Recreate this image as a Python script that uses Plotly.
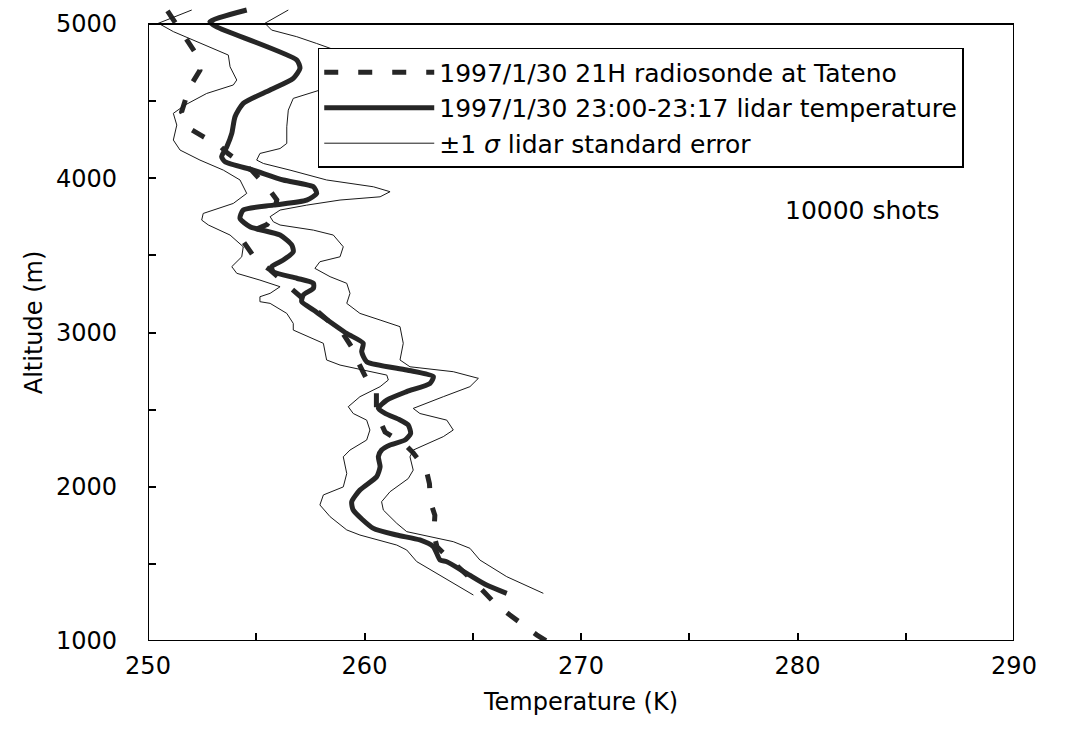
import plotly.graph_objects as go

# Radiosonde profile (Tateno, 1997/1/30 21H)
rs_alt = [5085, 4960, 4895, 4790, 4700, 4585, 4430, 4320, 4270, 4205, 4160, 4050, 3935, 3860,
          3760, 3700, 3645, 3590, 3470, 3405, 3330, 3275, 3040, 2995, 2885, 2810, 2670, 2615,
          2480, 2355, 2270, 2220, 2110, 2020, 1900, 1815, 1690, 1610, 1365, 1255, 1170, 1115,
          1040, 1000]
rs_temp = [250.9, 251.5, 251.8, 252.3, 252.4, 251.9, 251.55, 251.95, 252.55, 253.35, 253.7, 254.8,
           255.55, 255.95, 255.8, 255.5, 254.6, 254.4, 255.0, 255.65, 256.25, 256.7, 258.55, 259.0,
           259.5, 259.7, 260.2, 260.55, 260.55, 260.95, 261.9, 262.25, 262.85, 263.0, 263.05,
           263.25, 263.2, 263.35, 265.2, 265.95, 266.7, 267.2, 267.95, 268.4]

# Lidar temperature profile (23:00-23:17)
li_alt = [5091, 5015, 4982, 4767, 4713, 4648, 4572, 4486, 4399, 4291, 4205, 4140, 4107, 4053,
          3989, 3945, 3902, 3858, 3826, 3794, 3740, 3686, 3632, 3567, 3524, 3470, 3427, 3394,
          3352, 3319, 3287, 3243, 3200, 3146, 2995, 2930, 2876, 2811, 2757, 2714, 2671, 2617,
          2562, 2508, 2476, 2433, 2400, 2346, 2303, 2271, 2238, 2195, 2130, 2065, 1979, 1903,
          1849, 1730, 1687, 1655, 1612, 1525, 1514, 1439, 1363, 1309]
li_temp = [254.56, 252.86, 253.17, 256.87, 257.02, 256.71, 255.64, 254.40, 254.02, 253.87,
           253.64, 253.40, 253.56, 254.86, 256.25, 257.64, 257.79, 257.33, 255.79, 254.40,
           254.25, 254.71, 256.10, 256.64, 256.71, 256.25, 255.71, 255.79, 256.87, 257.64,
           257.64, 257.17, 257.10, 257.64, 259.17, 259.94, 259.87, 260.10, 261.95, 263.18,
           263.03, 261.95, 261.03, 260.64, 260.95, 261.64, 262.02, 262.13, 261.87, 261.18,
           260.79, 260.64, 260.72, 260.56, 259.79, 259.41, 259.48, 260.41, 261.49, 262.56,
           263.18, 263.49, 263.80, 264.72, 265.64, 266.57]

# Lidar -1 sigma
lo_alt = [5091, 5005, 4951, 4897, 4799, 4723, 4637, 4605, 4550, 4475, 4421, 4345, 4248, 4183,
          4118, 4053, 3989, 3902, 3837, 3772, 3729, 3697, 3632, 3556, 3491, 3427, 3384, 3340,
          3297, 3254, 3232, 3200, 3189, 3124, 3059, 3016, 2930, 2822, 2789, 2724, 2692, 2649,
          2584, 2519, 2475, 2432, 2368, 2303, 2238, 2194, 2086, 1999, 1947, 1882, 1806, 1720,
          1687, 1622, 1590, 1515, 1439, 1298]
lo_temp = [252.02, 250.48, 251.17, 252.09, 253.71, 253.79, 254.10, 253.94, 252.71, 251.71,
           251.17, 251.33, 251.17, 251.48, 252.40, 253.48, 254.25, 254.56, 253.94, 252.55,
           252.48, 252.79, 253.79, 254.40, 254.33, 253.87, 254.10, 255.17, 256.10, 255.64,
           255.17, 255.17, 255.64, 256.41, 256.71, 256.71, 258.10, 258.25, 258.87, 261.03,
           261.10, 260.72, 259.79, 259.25, 259.48, 260.10, 260.25, 260.10, 259.33, 259.02,
           259.18, 259.02, 258.10, 257.94, 258.41, 259.18, 259.79, 261.49, 261.95, 262.41,
           263.33, 265.03]

# Lidar +1 sigma
hi_alt = [5091, 5005, 4961, 4918, 4874, 4820, 4700, 4572, 4518, 4442, 4334, 4226, 4193, 4161,
          4118, 4096, 4053, 3989, 3945, 3913, 3880, 3859, 3826, 3794, 3751, 3718, 3697, 3664,
          3632, 3556, 3491, 3459, 3416, 3362, 3319, 3254, 3189, 3124, 3081, 3038, 2930, 2822,
          2778, 2746, 2703, 2649, 2584, 2508, 2475, 2432, 2368, 2325, 2238, 2194, 2108, 2053,
          1968, 1903, 1849, 1763, 1709, 1644, 1601, 1525, 1417, 1309]
hi_temp = [256.48, 255.40, 255.71, 256.87, 257.79, 258.87, 259.30, 257.94, 256.71, 256.48,
           256.41, 256.41, 256.10, 255.17, 255.02, 255.33, 256.56, 258.25, 260.41, 261.18,
           260.72, 258.87, 257.33, 256.10, 255.64, 255.79, 256.10, 257.64, 258.56, 259.02,
           258.87, 257.94, 257.71, 258.41, 259.18, 259.33, 259.18, 259.79, 260.72, 261.64,
           261.79, 261.64, 262.10, 264.10, 265.26, 264.87, 263.64, 262.25, 262.56, 263.80,
           264.10, 263.64, 262.25, 262.10, 262.25, 262.02, 261.18, 260.79, 260.87, 261.49,
           261.95, 264.10, 264.87, 265.33, 266.57, 268.26]

x_ticks = [250, 260, 270, 280, 290]
y_ticks = [1000, 2000, 3000, 4000, 5000]

FONT = "DejaVu Sans, Verdana, sans-serif"
FS = 24
INK = "#1a1a1a"

fig = go.Figure()

fig.add_trace(go.Scatter(
    x=rs_temp, y=rs_alt, mode="lines", name="1997/1/30 21H radiosonde at Tateno",
    line=dict(color="#262626", width=5, dash="14px,20px"), legendrank=1))
fig.add_trace(go.Scatter(
    x=li_temp, y=li_alt, mode="lines", name="1997/1/30 23:00-23:17 lidar temperature",
    line=dict(color="#262626", width=5, shape="spline", smoothing=0.6), legendrank=2))
fig.add_trace(go.Scatter(
    x=lo_temp, y=lo_alt, mode="lines", name="±1 <i>σ</i> lidar standard error",
    legendgroup="sig", line=dict(color=INK, width=1), legendrank=3))
fig.add_trace(go.Scatter(
    x=hi_temp, y=hi_alt, mode="lines", name="+1 sigma", showlegend=False,
    legendgroup="sig", line=dict(color=INK, width=1)))

# plot frame
fig.add_shape(type="rect", xref="x", yref="y", x0=250, x1=290, y0=1000, y1=5000,
              line=dict(color="black", width=2), fillcolor="rgba(0,0,0,0)", layer="above")

fig.add_annotation(x=283.0, y=3794, xref="x", yref="y", text="10000 shots", showarrow=False,
                   font=dict(family=FONT, size=25, color="black"))

fig.update_layout(
    width=1074, height=744,
    margin=dict(l=148, r=60, t=4, b=103),
    paper_bgcolor="white", plot_bgcolor="white",
    font=dict(family=FONT, size=FS, color="black"),
    showlegend=True,
    legend=dict(x=0.196, y=0.931, xanchor="left", yanchor="top",
                bgcolor="white", bordercolor="black", borderwidth=1.5,
                itemwidth=110, font=dict(family=FONT, size=25, color="black"),
                tracegroupgap=0, traceorder="normal"),
)

fig.update_xaxes(
    range=[250, 290], tickvals=x_ticks, ticktext=[str(v) for v in x_ticks],
    showgrid=False, zeroline=False, showline=False,
    ticks="inside", ticklen=8, tickwidth=1.5, tickcolor="black",
    minor=dict(ticks="inside", ticklen=8, tickwidth=1.5, tickcolor="black", dtick=5, showgrid=False),
    ticklabelstandoff=8,
    tickfont=dict(family=FONT, size=FS),
    title=dict(text="Temperature (K)", font=dict(family=FONT, size=FS), standoff=14),
)
fig.update_yaxes(
    range=[1000, 5130], tickvals=y_ticks, ticktext=[str(v) for v in y_ticks],
    showgrid=False, zeroline=False, showline=False,
    ticks="inside", ticklen=8, tickwidth=1.5, tickcolor="black",
    minor=dict(ticks="inside", ticklen=8, tickwidth=1.5, tickcolor="black",
               tickvals=[1500, 2500, 3500, 4500], showgrid=False),
    ticklabelstandoff=30,
    tickfont=dict(family=FONT, size=FS),
    title=dict(text="Altitude (m)", font=dict(family=FONT, size=FS), standoff=6),
)

fig.write_html("out.html", post_script="document.body.style.margin='0px';",
               config={"displayModeBar": False})
